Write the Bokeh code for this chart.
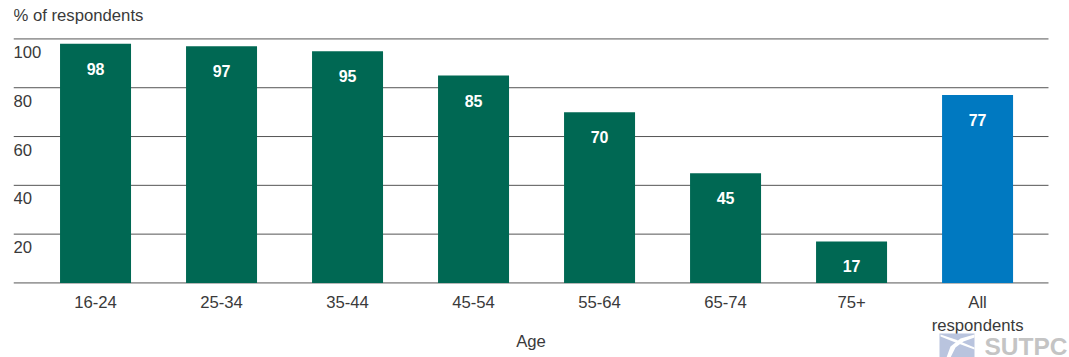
from bokeh.plotting import figure
from bokeh.models import ColumnDataSource, FixedTicker, Label, BoxAnnotation, PolyAnnotation
from bokeh.core.properties import value
from bokeh.embed import file_html
from bokeh.resources import INLINE

categories = ["16-24", "25-34", "35-44", "45-54", "55-64", "65-74", "75+", "All\nrespondents"]
values = [98, 97, 95, 85, 70, 45, 17, 77]
colors = ["#006853"] * 7 + ["#0079c1"]
y_ticks = [20, 40, 60, 80, 100]
FONT = "Liberation Sans"
TXT = "#3a3a3a"
X_LEFT, X_RIGHT = -0.651, 7.563

xs = list(range(len(categories)))
src = ColumnDataSource(dict(x=xs, v=values, c=colors, t=[str(v) for v in values]))

p = figure(width=1069, height=357, output_backend="svg", toolbar_location=None,
           x_range=(X_LEFT, X_RIGHT + 21 / 126), y_range=(-30.56, 115.75),
           min_border_left=13, min_border_right=0, min_border_top=0, min_border_bottom=0)
p.outline_line_color = None
p.background_fill_color = "white"
p.border_fill_color = "white"

p.grid.visible = False
p.yaxis.visible = False

grid_levels = [0] + y_ticks
p.segment(x0=[X_LEFT] * 6, x1=[X_RIGHT] * 6, y0=grid_levels, y1=grid_levels,
          line_color="#555555", line_width=1)

ax = p.xaxis[0]
ax.fixed_location = 0
ax.bounds = (X_LEFT, X_RIGHT)
ax.ticker = FixedTicker(ticks=xs)
ax.major_label_overrides = {i: c for i, c in zip(xs, categories)}
ax.axis_line_color = None
ax.major_tick_line_color = None
ax.minor_tick_line_color = None
ax.major_label_text_font = FONT
ax.major_label_text_font_size = "16.7px"
ax.major_label_text_color = TXT
ax.major_label_standoff = 4
ax.axis_label = "Age"
ax.axis_label_text_font = FONT
ax.axis_label_text_font_size = "16.7px"
ax.axis_label_text_font_style = "normal"
ax.axis_label_text_color = TXT
ax.axis_label_standoff = -5

p.add_layout(Label(x=0, y=342, x_units="screen", y_units="screen", text="% of respondents",
                   text_font=FONT, text_font_size="16.7px", text_color=TXT,
                   text_baseline="middle"))

p.vbar(x="x", top="v", bottom=0, width=71 / 126, fill_color="c", line_color=None, source=src)
p.text(x="x", y="v", text="t", source=src, text_color="white",
       text_font=value(FONT), text_font_style="bold", text_font_size="16px",
       text_align="center", text_baseline="middle", y_offset=25)
p.text(x=[X_LEFT] * len(y_ticks), y=y_ticks, text=[str(t) for t in y_ticks],
       text_color=TXT, text_font=value(FONT), text_font_size="16.7px",
       text_align="left", text_baseline="middle", y_offset=13)

# watermark in the lower right corner (screen units, measured from the frame's lower left)
p.add_layout(BoxAnnotation(left=926, right=961, top=24, bottom=0,
                           left_units="screen", right_units="screen",
                           top_units="screen", bottom_units="screen",
                           fill_color="#b9c4de", fill_alpha=1, line_color=None, level="overlay"))
p.add_layout(PolyAnnotation(xs=[927, 942, 961, 961, 942, 927], ys=[23, 18, 10, 8, 15, 21],
                            xs_units="screen", ys_units="screen",
                            fill_color="white", fill_alpha=1, line_color=None, level="overlay"))
p.add_layout(PolyAnnotation(xs=[961, 947, 937, 933, 937, 942, 950, 961], ys=[23, 19, 11, 0, 0, 10, 16, 20],
                            xs_units="screen", ys_units="screen",
                            fill_color="white", fill_alpha=1, line_color=None, level="overlay"))
p.add_layout(Label(x=971, y=11, x_units="screen", y_units="screen", text="SUTPC",
                   text_font=FONT, text_font_style="bold", text_font_size="24.5px",
                   text_color="#c4c4c4", text_baseline="middle", level="overlay"))

open("out.html", "w").write(file_html(p, INLINE))
